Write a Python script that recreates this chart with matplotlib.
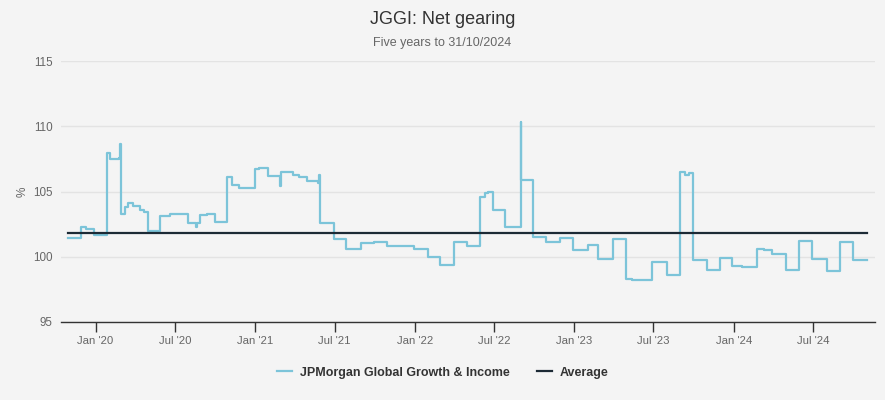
import matplotlib
matplotlib.use("Agg")
import matplotlib.pyplot as plt
import pandas as pd

# net gearing (%) - value holds from each date on
dates = [
    "2019-10-31", "2019-11-28", "2019-12-10", "2019-12-28",
    "2020-01-28", "2020-02-02", "2020-02-23", "2020-02-27",
    "2020-02-29", "2020-03-08", "2020-03-15", "2020-03-26", "2020-04-11", "2020-04-20",
    "2020-04-29", "2020-05-28", "2020-06-20", "2020-07-30", "2020-08-17", "2020-08-20",
    "2020-08-26", "2020-09-12", "2020-09-30", "2020-10-28", "2020-11-09", "2020-11-25",
    "2020-12-30", "2021-01-10", "2021-01-29", "2021-02-26", "2021-03-01", "2021-03-27",
    "2021-04-10", "2021-04-28", "2021-05-24", "2021-05-27", "2021-05-28", "2021-06-29",
    "2021-07-28", "2021-08-30", "2021-09-29", "2021-10-28", "2021-12-29", "2022-01-30",
    "2022-02-27", "2022-03-31", "2022-04-29", "2022-05-30", "2022-06-10", "2022-06-17",
    "2022-06-28", "2022-07-26", "2022-08-31", "2022-09-01", "2022-09-10", "2022-09-29",
    "2022-10-28", "2022-11-29", "2022-12-29", "2023-01-31", "2023-02-24", "2023-03-31",
    "2023-04-28", "2023-05-12", "2023-06-28", "2023-07-31", "2023-08-30", "2023-09-10",
    "2023-09-20", "2023-09-30", "2023-10-31", "2023-11-30", "2023-12-28", "2024-01-20",
    "2024-02-22", "2024-03-10", "2024-03-28", "2024-04-30", "2024-05-30", "2024-06-28",
    "2024-08-01", "2024-08-31", "2024-09-30", "2024-10-31",
]
gearing = [
    101.45, 102.25, 102.15, 101.65,
    107.95, 107.5, 107.6, 108.66,
    103.3, 103.8, 104.1, 103.9, 103.6, 103.45,
    101.95, 103.15, 103.25, 102.6, 102.3, 102.6,
    103.2, 103.3, 102.7, 106.1, 105.5, 105.3,
    106.7, 106.8, 106.15, 105.4, 106.5, 106.3,
    106.1, 105.8, 105.65, 106.3, 102.6, 101.35,
    100.6, 101.05, 101.12, 100.84, 100.6, 99.95,
    99.34, 101.12, 100.84, 104.6, 104.9, 104.93,
    103.6, 102.3, 110.3, 105.85, 105.9, 101.55,
    101.1, 101.43, 100.54, 100.9, 99.85, 101.38,
    98.3, 98.2, 99.56, 98.62, 106.46, 106.3,
    106.45, 99.77, 98.95, 99.87, 99.31, 99.25,
    100.61, 100.55, 100.2, 98.95, 101.17, 99.85,
    98.93, 101.12, 99.75, 99.75,
]
AVERAGE = 101.82

tick_dates = ["2020-01-01", "2020-07-01", "2021-01-01", "2021-07-01", "2022-01-01",
              "2022-07-01", "2023-01-01", "2023-07-01", "2024-01-01", "2024-07-01"]
tick_labels = ["Jan '20", "Jul '20", "Jan '21", "Jul '21", "Jan '22",
               "Jul '22", "Jan '23", "Jul '23", "Jan '24", "Jul '24"]
y_ticks = [95, 100, 105, 110, 115]

BG = "#f4f4f4"
LINE = "#7cc4d9"
AVG = "#1c2a35"
GREY = "#666666"

plt.rcParams["font.family"] = ["Liberation Sans", "DejaVu Sans"]

x = pd.to_datetime(dates)
fig = plt.figure(figsize=(8.85, 4.0), dpi=100, facecolor=BG)
ax = fig.add_axes([0.069, 0.195, 0.9197, 0.6525], facecolor=BG)

ax.plot(x, gearing, drawstyle="steps-post", color=LINE, lw=1.6,
        label="JPMorgan Global Growth & Income", zorder=3)
ax.plot([x[0], x[-1]], [AVERAGE, AVERAGE], color=AVG, lw=1.6,
        label="Average", zorder=4)

ax.set_xlim(pd.Timestamp("2019-10-14"), pd.Timestamp("2024-11-19"))
ax.set_ylim(95, 115)
ax.set_yticks(y_ticks)
ax.set_xticks(pd.to_datetime(tick_dates))
ax.set_xticklabels(tick_labels)

ax.grid(axis="y", color="#e3e3e3", lw=1)
ax.set_axisbelow(True)
for s in ["top", "right", "left"]:
    ax.spines[s].set_visible(False)
ax.spines["bottom"].set_color("#333333")
ax.spines["bottom"].set_linewidth(1)
ax.tick_params(axis="x", length=7, width=1, color="#333333", labelcolor=GREY,
               labelsize=8.2, pad=3)
ax.tick_params(axis="y", length=0, labelcolor=GREY, labelsize=8.4, pad=6)
ax.set_ylabel("%", color=GREY, fontsize=8.5, labelpad=3)

fig.text(0.5, 0.95, "JGGI: Net gearing", ha="center", va="center",
         fontsize=13, color="#333333")
fig.text(0.5, 0.893, "Five years to 31/10/2024", ha="center", va="center",
         fontsize=9, color=GREY)

leg = fig.legend(loc="center", bbox_to_anchor=(0.5, 0.068), ncol=2, frameon=False,
                 handlelength=1.2, columnspacing=2.2, handletextpad=0.6,
                 prop={"weight": "bold", "size": 9})
for t in leg.get_texts():
    t.set_color("#333333")

fig.savefig("out.png", dpi=100, facecolor=BG)
